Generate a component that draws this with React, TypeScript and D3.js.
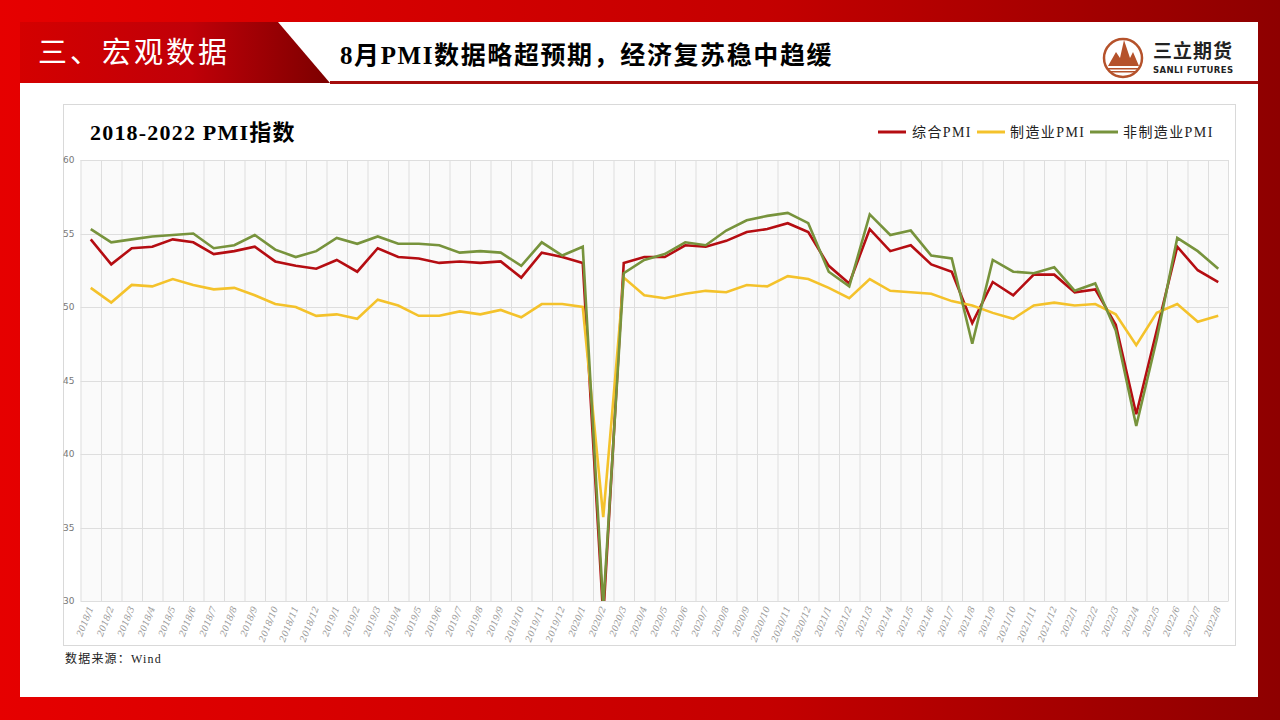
import React from "react";
import * as d3 from "d3";

const months: string[] = [];
["2018", "2019", "2020", "2021"].forEach((y) => {
  for (let m = 1; m <= 12; m++) months.push(`${y}/${m}`);
});
for (let m = 1; m <= 8; m++) months.push(`2022/${m}`);

const composite = [
  54.6, 52.9, 54.0, 54.1, 54.6, 54.4, 53.6, 53.8, 54.1, 53.1, 52.8, 52.6,
  53.2, 52.4, 54.0, 53.4, 53.3, 53.0, 53.1, 53.0, 53.1, 52.0, 53.7, 53.4,
  53.0, 28.9, 53.0, 53.4, 53.4, 54.2, 54.1, 54.5, 55.1, 55.3, 55.7, 55.1,
  52.8, 51.6, 55.3, 53.8, 54.2, 52.9, 52.4, 48.9, 51.7, 50.8, 52.2, 52.2,
  51.0, 51.2, 48.8, 42.7, 48.4, 54.1, 52.5, 51.7,
];
const manufacturing = [
  51.3, 50.3, 51.5, 51.4, 51.9, 51.5, 51.2, 51.3, 50.8, 50.2, 50.0, 49.4,
  49.5, 49.2, 50.5, 50.1, 49.4, 49.4, 49.7, 49.5, 49.8, 49.3, 50.2, 50.2,
  50.0, 35.7, 52.0, 50.8, 50.6, 50.9, 51.1, 51.0, 51.5, 51.4, 52.1, 51.9,
  51.3, 50.6, 51.9, 51.1, 51.0, 50.9, 50.4, 50.1, 49.6, 49.2, 50.1, 50.3,
  50.1, 50.2, 49.5, 47.4, 49.6, 50.2, 49.0, 49.4,
];
const nonManufacturing = [
  55.3, 54.4, 54.6, 54.8, 54.9, 55.0, 54.0, 54.2, 54.9, 53.9, 53.4, 53.8,
  54.7, 54.3, 54.8, 54.3, 54.3, 54.2, 53.7, 53.8, 53.7, 52.8, 54.4, 53.5,
  54.1, 29.6, 52.3, 53.2, 53.6, 54.4, 54.2, 55.2, 55.9, 56.2, 56.4, 55.7,
  52.4, 51.4, 56.3, 54.9, 55.2, 53.5, 53.3, 47.5, 53.2, 52.4, 52.3, 52.7,
  51.1, 51.6, 48.4, 41.9, 47.8, 54.7, 53.8, 52.6,
];
const yTicks = [30, 35, 40, 45, 50, 55, 60];

const series = [
  { name: "综合PMI", values: composite, color: "#b50d12" },
  { name: "制造业PMI", values: manufacturing, color: "#f4c22b" },
  { name: "非制造业PMI", values: nonManufacturing, color: "#77933c" },
];

const plot = { left: 80.5, right: 1228.5, top: 160, bottom: 601 };
const serif = "'Liberation Serif', 'Times New Roman', 'Noto Sans CJK SC', serif";

export default function App() {
  const x = d3.scaleBand<string>().domain(months).range([plot.left, plot.right]);
  const y = d3.scaleLinear().domain([30, 60]).range([plot.bottom, plot.top]);
  const line = d3
    .line<number>()
    .x((_, i) => (x(months[i]) as number) + x.bandwidth() / 2)
    .y((d) => y(d));

  const legendX = [878, 977, 1090];
  const legendText = [912, 1010, 1123];

  return (
    <div style={{ position: "absolute", left: 0, top: 0 }}>
      <svg width={1280} height={720} style={{ display: "block" }}>
        <defs>
          <linearGradient id="frame" x1="0" x2="1" y1="0" y2="0">
            <stop offset="0" stopColor="#e60000" />
            <stop offset="0.6" stopColor="#c40000" />
            <stop offset="1" stopColor="#8e0000" />
          </linearGradient>
          <linearGradient id="band" x1="0" x2="1" y1="0" y2="0">
            <stop offset="0" stopColor="#d40000" />
            <stop offset="0.55" stopColor="#c00008" />
            <stop offset="1" stopColor="#7c0000" />
          </linearGradient>
          <clipPath id="plotClip">
            <rect x={plot.left} y={plot.top - 2} width={plot.right - plot.left} height={plot.bottom - plot.top + 2} />
          </clipPath>
        </defs>

        {/* slide frame */}
        <rect x={0} y={0} width={1280} height={720} fill="url(#frame)" />
        <rect x={20} y={22} width={1238} height={675} fill="#ffffff" />

        {/* header */}
        <path d="M20,22 L278,22 L330,83 L20,83 Z" fill="url(#band)" />
        <text x={38} y={63} fill="#ffffff" fontSize={29} letterSpacing={3} fontFamily="'Noto Sans CJK SC', sans-serif">
          三、宏观数据
        </text>
        <rect x={330} y={81} width={928} height={3} fill="#a50d0d" />
        <text x={340} y={64} fontSize={25} letterSpacing={1.6} fontWeight="bold" fontFamily={serif} fill="#000">
          8月PMI数据略超预期，经济复苏稳中趋缓
        </text>

        {/* logo */}
        <g>
          <circle cx={1123} cy={58} r={19} fill="none" stroke="#b5522b" strokeWidth={2.5} />
          <path d="M1108,66 L1116,52 L1120,58 L1124,40 L1130,58 L1133,52 L1139,66 Z" fill="#b5522b" />
          <rect x={1108} y={68} width={30} height={1.5} fill="#b5522b" />
          <rect x={1110} y={71} width={26} height={1.5} fill="#b5522b" />
          <text x={1153} y={58} fontSize={19} letterSpacing={1} fontWeight="bold" fontFamily="'Noto Sans CJK SC', sans-serif" fill="#222">
            三立期货
          </text>
          <text x={1153} y={73} fontSize={8.5} letterSpacing={0.4} fontWeight="bold" fontFamily="'DejaVu Sans', sans-serif" fill="#222">
            SANLI FUTURES
          </text>
        </g>

        {/* chart card */}
        <rect x={63.5} y={104.5} width={1172} height={541} fill="#ffffff" stroke="#d9d9d9" />
        <text x={90} y={140} fontSize={22} letterSpacing={1.2} fontWeight="bold" fontFamily={serif} fill="#000">
          2018-2022 PMI指数
        </text>

        {series.map((s, i) => (
          <g key={s.name}>
            <line x1={legendX[i]} x2={legendX[i] + 28} y1={132} y2={132} stroke={s.color} strokeWidth={3} />
            <text x={legendText[i]} y={137} fontSize={14} letterSpacing={1.4} fontFamily={serif} fill="#222">
              {s.name}
            </text>
          </g>
        ))}

        {/* plot area */}
        <rect x={plot.left} y={plot.top} width={plot.right - plot.left} height={plot.bottom - plot.top} fill="#fafafa" />
        {months.map((m) => (
          <line
            key={"v" + m}
            x1={(x(m) as number) + 0.5}
            x2={(x(m) as number) + 0.5}
            y1={plot.top}
            y2={plot.bottom}
            stroke="#dedede"
            strokeWidth={1}
          />
        ))}
        <line x1={plot.right} x2={plot.right} y1={plot.top} y2={plot.bottom} stroke="#dedede" />
        {yTicks.map((t) => (
          <g key={"y" + t}>
            <line x1={plot.left} x2={plot.right} y1={Math.round(y(t)) + 0.5} y2={Math.round(y(t)) + 0.5} stroke="#dedede" />
            <text x={plot.left - 6} y={y(t) + 3} textAnchor="end" fontSize={9} fill="#777" fontFamily="'DejaVu Sans', sans-serif">
              {t}
            </text>
          </g>
        ))}

        <g clipPath="url(#plotClip)">
          {series.map((s) => (
            <path key={s.name} d={line(s.values) || ""} fill="none" stroke={s.color} strokeWidth={2.6} strokeLinejoin="miter" />
          ))}
        </g>

        {months.map((m) => {
          const cx = (x(m) as number) + x.bandwidth() / 2 + 3;
          return (
            <text
              key={"x" + m}
              transform={`translate(${cx},${plot.bottom + 7}) rotate(-68)`}
              textAnchor="end"
              fontSize={9}
              fill="#999"
              fontFamily="'DejaVu Serif', serif"
              fontStyle="italic"
            >
              {m}
            </text>
          );
        })}

        <text x={65} y={663} fontSize={12} letterSpacing={1.2} fontFamily={serif} fill="#222">
          数据来源：Wind
        </text>
      </svg>
    </div>
  );
}
